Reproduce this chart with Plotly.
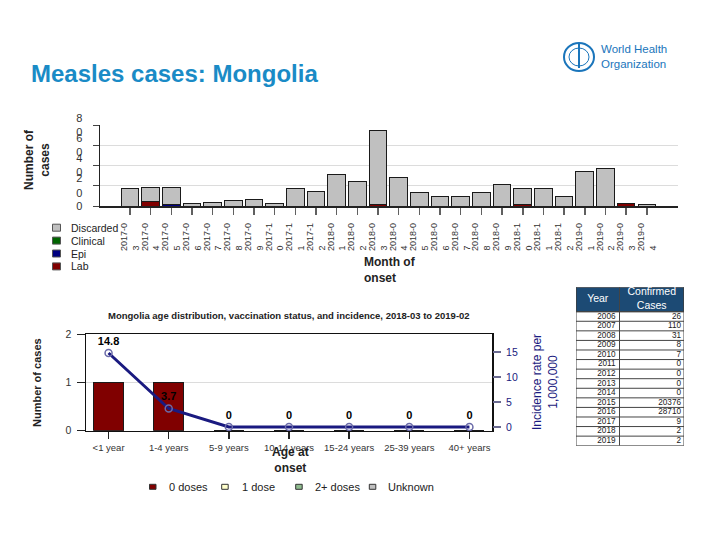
import plotly.graph_objects as go

W, H = 720, 540
def px(x): return x / W
def py(y): return 1 - y / H

# ---------------- data ----------------
months = ["2017-03", "2017-04", "2017-05", "2017-06", "2017-07", "2017-08", "2017-09",
          "2017-10", "2017-11", "2017-12", "2018-01", "2018-02", "2018-03", "2018-04",
          "2018-05", "2018-06", "2018-07", "2018-08", "2018-09", "2018-10", "2018-11",
          "2018-12", "2019-01", "2019-02", "2019-03", "2019-04"]
lab       = [0, 4, 0, 0, 0, 0, 0, 0, 0, 0, 0, 0, 1, 0, 0, 0, 0, 0, 0, 1, 0, 0, 0, 0, 2, 0]
epi       = [0, 0, 1, 0, 0, 0, 0, 0, 0, 0, 0, 0, 0, 0, 0, 0, 0, 0, 0, 0, 0, 0, 0, 0, 0, 0]
clinical  = [0] * 26
discarded = [17, 14, 17, 2, 3, 5, 6, 2, 17, 14, 31, 24, 74, 28, 13, 9, 9, 13, 21, 16, 17, 9, 34, 37, 0, 1]
y_ticks_top = [0, 20, 40, 60, 80]

age_groups = ["<1 year", "1-4 years", "5-9 years", "10-14 years", "15-24 years", "25-39 years", "40+ years"]
zero_doses = [1, 1, 0, 0, 0, 0, 0]
one_dose   = [0, 0, 0, 0, 0, 0, 0]
two_doses  = [0, 0, 0, 0, 0, 0, 0]
unknown    = [0, 0, 0, 0, 0, 0, 0]
incidence  = [14.8, 3.7, 0, 0, 0, 0, 0]
inc_ticks  = [0, 5, 10, 15]

years = [2006, 2007, 2008, 2009, 2010, 2011, 2012, 2013, 2014, 2015, 2016, 2017, 2018, 2019]
confirmed = [26, 110, 31, 8, 7, 0, 0, 0, 0, 20376, 28710, 9, 2, 2]
table_header = ["Year", "Confirmed<br>Cases"]

FONT = "Arial, Liberation Sans, sans-serif"
C_DISC, C_CLIN, C_EPI, C_LAB = "#c0c0c0", "#006400", "#000080", "#800000"
NAVY = "#1a1a80"
HEADER_BG = "#1c4a74"

fig = go.Figure()

# ---------------- top chart ----------------
top_series = [("Lab", lab, C_LAB), ("Epi", epi, C_EPI), ("Clinical", clinical, C_CLIN),
              ("Discarded", discarded, C_DISC)]
for name, vals, col in top_series:
    fig.add_trace(go.Bar(x=months, y=vals, name=name,
                         marker=dict(color=col, line=dict(color="#1a1a1a", width=1)),
                         xaxis="x", yaxis="y", showlegend=False))

NB = "\u00a0"
def wrap_month(m):
    # second line padded so both lines start at the same end (left-aligned like the original)
    return m[:6] + "<br>" + m[6:] + NB * 9
def wrap_num(v):
    s = str(v)
    return s if len(s) == 1 else s[0] + "<br>" + s[1:]

# ---------------- bottom chart ----------------
bot_series = [("0 doses", zero_doses, "#800000"), ("1 dose", one_dose, "#ffffcc"),
              ("2+ doses", two_doses, "#8fbc8f"), ("Unknown", unknown, "#c0c0c0")]
for name, vals, col in bot_series:
    fig.add_trace(go.Bar(x=age_groups, y=vals, name=name,
                         marker=dict(color=col, line=dict(color="#1a1a1a", width=1)),
                         xaxis="x2", yaxis="y2", showlegend=False, width=0.5))
fig.add_trace(go.Scatter(x=age_groups, y=incidence, xaxis="x2", yaxis="y3", mode="lines+markers+text",
                         line=dict(color=NAVY, width=3),
                         marker=dict(symbol="circle-open", size=7, color="#6a6aa8", line=dict(width=1.5)),
                         text=[("%g" % v) for v in incidence], textposition="top center",
                         textfont=dict(family=FONT, size=11, color="black", weight="bold"),
                         showlegend=False, cliponaxis=False))

# ---------------- table (own axes: x in px-like units, y in rows) ----------------
TBL_W, COL1 = 108, 43.5
HDR = 2.55
n = len(years)
fig.add_trace(go.Scatter(x=[COL1 - 4] * n, y=[i + 0.5 for i in range(n)], text=[str(v) for v in years],
                         mode="text", textposition="middle left", xaxis="x3", yaxis="y4",
                         textfont=dict(family=FONT, size=8.2, color="#1a1a1a"), showlegend=False,
                         cliponaxis=False))
fig.add_trace(go.Scatter(x=[TBL_W - 3] * n, y=[i + 0.5 for i in range(n)], text=[str(v) for v in confirmed],
                         mode="text", textposition="middle left", xaxis="x3", yaxis="y4",
                         textfont=dict(family=FONT, size=8.2, color="#1a1a1a"), showlegend=False,
                         cliponaxis=False))
fig.add_trace(go.Scatter(x=[COL1 / 2, (COL1 + TBL_W) / 2], y=[-HDR / 2, -HDR / 2], text=table_header,
                         mode="text", textposition="middle center", xaxis="x3", yaxis="y4",
                         textfont=dict(family=FONT, size=10.5, color="white"), showlegend=False,
                         cliponaxis=False))

noax = dict(showline=False, showgrid=False, zeroline=False, showticklabels=False, ticks="", automargin=False,
            fixedrange=True)

fig.update_layout(
    width=W, height=H, margin=dict(l=0, r=0, t=0, b=0, autoexpand=False),
    paper_bgcolor="white", plot_bgcolor="white",
    font=dict(family=FONT, color="#222222"),
    barmode="stack", bargap=0.15, hovermode=False,
    xaxis=dict(domain=[px(100), px(678)], range=[-1.45, 25 + 1.51], type="category",
               tickmode="array", tickvals=months, ticktext=[wrap_month(m) for m in months],
               tickangle=-90, tickfont=dict(size=9, color="#333333"), ticklabelstandoff=5,
               ticks="outside", ticklen=7, tickwidth=1.5, tickcolor="#606060", automargin=False,
               showline=True, linecolor="#222222", linewidth=1.5, showgrid=False, anchor="y"),
    yaxis=dict(domain=[py(206), py(125)], range=[0, 80], tickvals=y_ticks_top,
               ticktext=[wrap_num(v) for v in y_ticks_top], tickfont=dict(size=11, color="#333333"),
               ticklabelstandoff=8,
               ticks="outside", ticklen=6, tickcolor="#444444", showline=True, linecolor="#222222",
               linewidth=1.5, gridcolor="#dcdcdc", gridwidth=1, zeroline=False, anchor="x", automargin=False),
    xaxis2=dict(domain=[px(86), px(492)], range=[-0.375, 6.375], type="category",
                tickfont=dict(size=9.5, color="#333333"), ticks="outside", ticklen=7, tickwidth=1.5,
                tickcolor="#222222", showline=True, linecolor="#111111", linewidth=1.5, mirror=True,
                showgrid=False, anchor="y2", automargin=False),
    yaxis2=dict(domain=[py(430.7), py(334.3)], range=[0, 2], dtick=1, tickfont=dict(size=10.5, color="#333333"),
                ticklabelstandoff=3,
                ticks="outside", ticklen=8, tickcolor="#222222", showline=True, linecolor="#111111",
                linewidth=1.5, mirror=True, gridcolor="#dcdcdc", zeroline=False, anchor="x2", automargin=False),
    yaxis3=dict(overlaying="y2", side="right", anchor="x2", range=[-0.74, 18.54],
                tickvals=inc_ticks, tickfont=dict(size=10.5, color=NAVY), ticklabelstandoff=3,
                ticks="outside", ticklen=8, tickwidth=1.5, tickcolor="#6a6a90", showgrid=False,
                zeroline=False, showline=False, automargin=False),
    xaxis3=dict(domain=[px(576), px(684)], range=[0, TBL_W], anchor="y4", **noax),
    yaxis4=dict(domain=[py(445.7), py(287.3)], range=[n, -HDR], anchor="x3", **noax),
)

ann = []
def A(x, y, text, size=11, color="#222222", bold=False, xanchor="center", yanchor="middle", angle=0, align="center"):
    ann.append(dict(x=px(x), y=py(y), xref="paper", yref="paper", text=text, showarrow=False,
                    font=dict(family=FONT, size=size, color=color, weight="bold" if bold else "normal"),
                    xanchor=xanchor, yanchor=yanchor, textangle=angle, align=align))

A(29, 73, "Measles cases: Mongolia", size=24, color="#1a8bc6", bold=True, xanchor="left")
A(37, 160, "Number of<br>cases", size=12, bold=True, angle=-90)
A(362, 270, "Month of<br>onset", size=12, bold=True, xanchor="left", align="left")
A(289, 315, "Mongolia age distribution, vaccination status, and incidence, 2018-03 to 2019-02", size=9.5, bold=True)
A(37, 383, "Number of cases", size=11, bold=True, angle=-90)
A(290, 460, "Age at<br>onset", size=12, bold=True)
A(545, 382, "Incidence rate per<br>1,000,000", size=12, color=NAVY, angle=-90)
A(599, 56, "World Health<br>Organization", size=11.5, color="#1a75bb", xanchor="left", align="left")

shapes = []
# top legend
for i, (name, col) in enumerate([("Discarded", C_DISC), ("Clinical", C_CLIN), ("Epi", C_EPI), ("Lab", C_LAB)]):
    yy = 227.7 + 12.9 * i
    shapes.append(dict(type="rect", xref="paper", yref="paper", x0=px(52.5), x1=px(60.5), y0=py(yy + 3.5), y1=py(yy - 3.5),
                       fillcolor=col, line=dict(color="#555555", width=1)))
    A(69, yy, name, size=10.5, xanchor="left")
# bottom legend
for (name, col, sx, tx) in [("0 doses", "#800000", 149.5, 167), ("1 dose", "#ffffcc", 221.7, 239.5),
                            ("2+ doses", "#8fbc8f", 295.7, 312.5), ("Unknown", "#c0c0c0", 369.3, 386)]:
    shapes.append(dict(type="rect", xref="paper", yref="paper", x0=px(sx), x1=px(sx + 6.5), y0=py(489.3), y1=py(484.3),
                       fillcolor=col, line=dict(color="#333333", width=1)))
    A(tx, 487, name, size=11, xanchor="left")
# table grid
shapes.append(dict(type="rect", xref="x3", yref="y4", x0=0, x1=TBL_W, y0=-HDR, y1=0, fillcolor=HEADER_BG,
                   line=dict(color="#333333", width=1), layer="below"))
for i in range(n + 1):
    shapes.append(dict(type="line", xref="x3", yref="y4", x0=0, x1=TBL_W, y0=i, y1=i,
                       line=dict(color="#444444", width=1)))
for xv in [0, COL1, TBL_W]:
    shapes.append(dict(type="line", xref="x3", yref="y4", x0=xv, x1=xv, y0=-HDR, y1=n,
                       line=dict(color="#444444", width=1)))
# WHO emblem (approximate)
shapes.append(dict(type="circle", xref="paper", yref="paper", x0=px(564), x1=px(594), y0=py(71), y1=py(43),
                   line=dict(color="#1a75bb", width=2)))
shapes.append(dict(type="circle", xref="paper", yref="paper", x0=px(569), x1=px(589), y0=py(66), y1=py(48),
                   line=dict(color="#1a75bb", width=1)))
shapes.append(dict(type="line", xref="paper", yref="paper", x0=px(579), x1=px(579), y0=py(68), y1=py(44),
                   line=dict(color="#1a75bb", width=2)))

fig.update_layout(annotations=ann, shapes=shapes)
fig.write_html("out.html", config={"displayModeBar": False, "staticPlot": True},
               post_script="document.body.style.margin='0px';")
